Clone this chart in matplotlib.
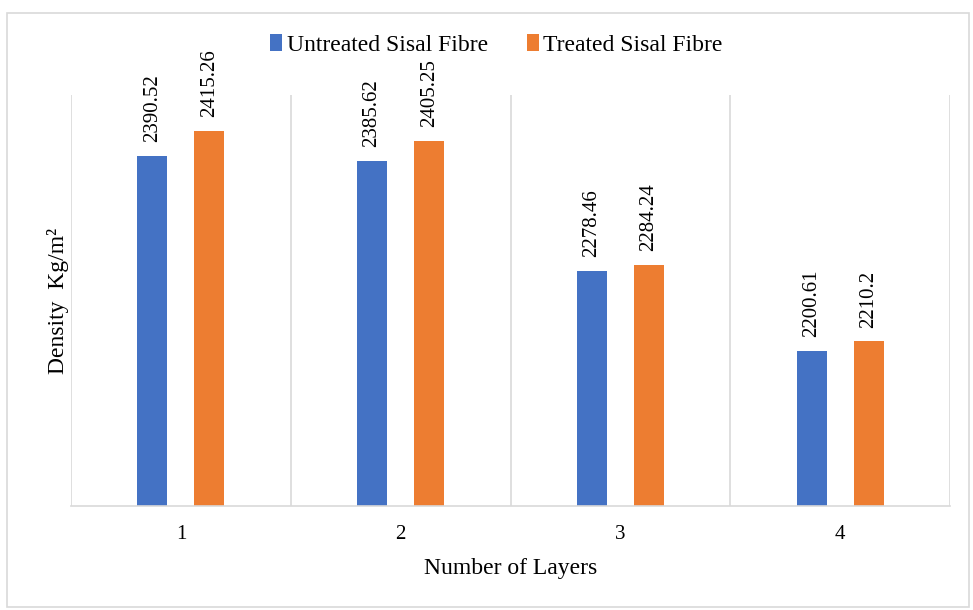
import numpy as np
from matplotlib import pyplot as plt
from matplotlib.patches import Rectangle

plt.rcParams['font.family'] = ['Liberation Serif', 'DejaVu Serif']

layers = ['1', '2', '3', '4']
untreated = [2390.52, 2385.62, 2278.46, 2200.61]
treated = [2415.26, 2405.25, 2284.24, 2210.2]
labels_untreated = ['2390.52', '2385.62', '2278.46', '2200.61']
labels_treated = ['2415.26', '2405.25', '2284.24', '2210.2']

fig = plt.figure(figsize=(9.73, 6.1), dpi=100)
ax = fig.add_axes([71/973, 1-506/610, (950-71)/973, (506-95)/610])

x = np.arange(len(layers))
width = 0.137
off = 0.13
b1 = ax.bar(x - off, untreated, width=width, color='#4472C4', label='Untreated Sisal Fibre')
b2 = ax.bar(x + off, treated, width=width, color='#ED7D31', label='Treated Sisal Fibre')

for bars, labs in ((b1, labels_untreated), (b2, labels_treated)):
    for b, t in zip(bars, labs):
        ax.annotate(t, (b.get_x() + b.get_width()/2, b.get_height()),
                    xytext=(0, 10), textcoords='offset points',
                    rotation=90, ha='center', va='bottom', fontsize=15)

ax.set_ylim(2050, 2450)
ax.set_xlim(-0.5, 3.5)
ax.set_yticks([])
ax.set_xticks(x)
ax.set_xticklabels(layers, fontsize=15)
ax.tick_params(axis='x', length=0, pad=14)
for xv in [0.5, 1.5, 2.5, 3.5, -0.5]:
    ax.axvline(xv, color='#D9D9D9', lw=1.2, zorder=0)
for s in ['top', 'right', 'left']:
    ax.spines[s].set_visible(False)
ax.spines['bottom'].set_color('#D9D9D9')
ax.spines['bottom'].set_linewidth(1.2)

ax.set_xlabel('Number of Layers', fontsize=17, labelpad=10)
ax.set_ylabel('Density  Kg/m²', fontsize=17)
ax.yaxis.set_label_coords(-0.002, 0.5)

ax.legend(loc='center', bbox_to_anchor=(0.484, 1.122), ncol=2, frameon=False,
          fontsize=17, handlelength=0.5, handleheight=0.7, handletextpad=0.2,
          columnspacing=1.65)

fig.patches.append(Rectangle((7/973, 3/610), 962/973, (607-13)/610, transform=fig.transFigure,
                             fill=False, edgecolor='#D9D9D9', lw=1.2))

plt.savefig('out.png', dpi=100)
